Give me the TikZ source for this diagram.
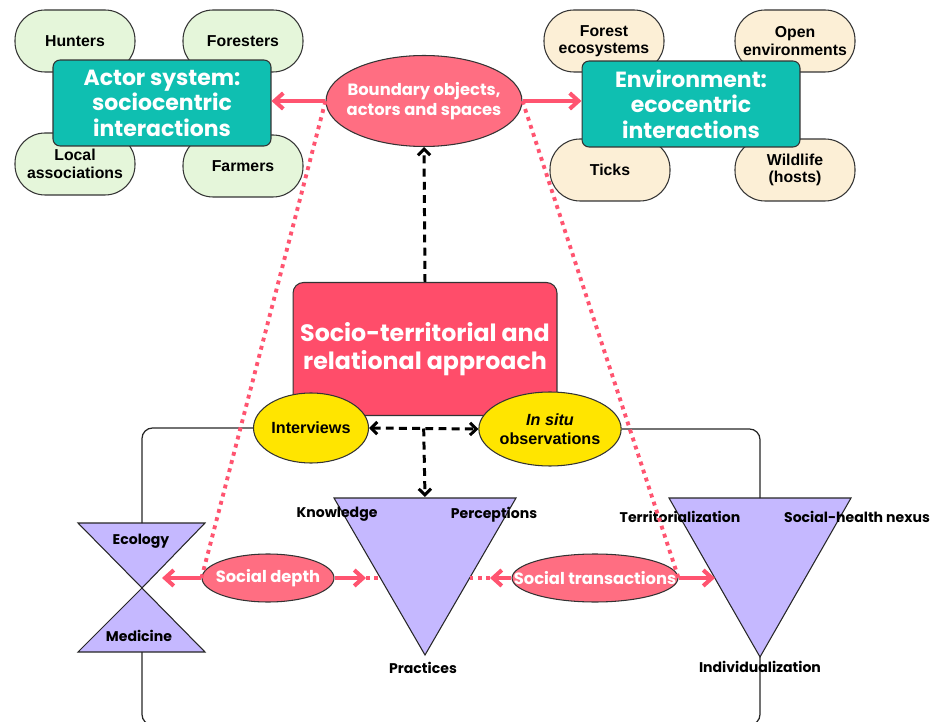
\documentclass[tikz,border=0pt]{standalone}
\usepackage{fontspec}
\setmainfont{Liberation Sans}
\newfontfamily\popf{Poppins}
\usepackage{tikz}
\usetikzlibrary{calc,arrows.meta,shapes.geometric}

\definecolor{pillgreen}{HTML}{E5F6DA}
\definecolor{pillcream}{HTML}{FCEFD6}
\definecolor{tealbx}{HTML}{0FBFB1}
\definecolor{ovalpink}{HTML}{FF6E82}
\definecolor{redbx}{HTML}{FF4D6A}
\definecolor{ovalyellow}{HTML}{FFE500}
\definecolor{lilac}{HTML}{C5B8FF}
\definecolor{arrpink}{HTML}{FF5470}

\tikzset{
	pill/.style={draw=black!80, line width=0.6pt, rectangle, rounded corners=0.6cm, minimum width=2.4cm, minimum height=1.24cm, inner sep=0pt, align=center, font=\fontsize{9}{10}\selectfont\bfseries},
	pillg/.style={pill, fill=pillgreen},
	pillc/.style={pill, fill=pillcream},
	tealbox/.style={draw=black!80, line width=0.6pt, fill=tealbx, rounded corners=4pt, minimum width=4.36cm, minimum height=1.72cm, align=center, text=white, font=\popf\fontsize{12.5}{14.5}\selectfont\bfseries},
	redbox/.style={draw=black!80, line width=0.6pt, fill=redbx, rounded corners=6pt, minimum width=5.28cm, minimum height=2.66cm, align=center, text=white, font=\popf\fontsize{13.5}{16}\selectfont\bfseries},
	pinkoval/.style={draw=black!80, line width=0.6pt, fill=ovalpink, ellipse, inner sep=0pt},
	ovaltxt/.style={align=center, text=white, inner sep=0pt, font=\popf\fontsize{9.3}{11.5}\selectfont\bfseries},
	yelloval/.style={draw=black!80, line width=0.6pt, fill=ovalyellow, ellipse, inner sep=0pt, align=center, font=\fontsize{9.2}{10.5}\selectfont\bfseries},
	pinkarr/.style={draw=arrpink, line width=2.3pt, -{Straight Barb[length=5pt,width=9pt]}},
	blkarr/.style={draw=black, line width=1.7pt, dash pattern=on 4.5pt off 3pt, -{Straight Barb[length=3.5pt,width=7pt]}},
	pinkdot/.style={draw=arrpink, line width=2.2pt, dash pattern=on 2.2pt off 2.6pt},
	thinln/.style={draw=black!85, line width=0.7pt, rounded corners=6pt},
	trifill/.style={draw=black!85, line width=0.6pt, fill=lilac},
	lbl/.style={font=\popf\fontsize{8}{9}\selectfont\bfseries, inner sep=0pt}
}

\begin{document}
\begin{tikzpicture}[x=0.02cm, y=-0.02cm]
		%%%%% START %%%%%
		\useasboundingbox (0,0) rectangle (936,722);
		
		% actors
		\node[pillg] (hunt) at (75,41) {Hunters};
		\node[pillg] (fors) at (243,41) {Foresters};
		\node[pillg] (loc) at (75,164) {Local\\associations};
		\node[pillg] (farm) at (243,166) {Farmers};
		\node[tealbox] (actor) at (162,103) {Actor system:\\sociocentric\\interactions};
		
		% environment
		\node[pillc] (forest) at (604,41) {Forest\\ecosystems};
		\node[pillc] (open) at (795,41) {Open\\environments};
		\node[pillc] (ticks) at (610,170) {Ticks};
		\node[pillc] (wild) at (795,170) {Wildlife\\(hosts)};
		\node[tealbox] (env) at (691,104) {Environment:\\ecocentric\\interactions};
		
		\node[pinkoval, minimum width=3.92cm, minimum height=1.82cm, label={[ovaltxt]center:{Boundary objects,\\actors and spaces}}] (bound) at (424,101) {};
		
		\draw[pinkarr] (bound.west) -- (actor.east |- bound.west);
		\draw[pinkarr] (bound.east) -- (env.west |- bound.east);
		
		% approach
		\node[redbox] (appr) at (425,349) {Socio-territorial and\\relational approach};
		\node[yelloval, minimum width=2.3cm, minimum height=1.4cm] (int) at (311,428) {Interviews};
		\node[yelloval, minimum width=2.7cm, minimum height=1.48cm] (situ) at (550,429) {\textit{In situ}\\observations};
		
		\draw[blkarr] (appr.north) -- (bound.south);
		\draw[blkarr, {Straight Barb[length=3.5pt,width=7pt]}-{Straight Barb[length=3.5pt,width=7pt]}] (int.east) -- (situ.west);
		\coordinate (mid) at ($(int.east)!0.5!(situ.west)$);
		\coordinate (kntop) at (425,497);
		\draw[blkarr] (mid) -- (kntop);
		
		% triangles
		\coordinate (hgtop) at (142,523);
		\coordinate (hgbot) at (142,652);
		\coordinate (rttop) at (760,498);
		\coordinate (rtapex) at (760,657);
		\draw[trifill] (78,523) -- (205,523) -- (142,588) -- cycle;
		\draw[trifill] (142,588) -- (205,652) -- (78,652) -- cycle;
		\draw[trifill] (334,498) -- (516,498) -- (425,655) -- cycle;
		\draw[trifill] (669,498) -- (851,498) -- (760,657) -- cycle;
		
		\draw[thinln] (int.west) -- (142,428) -- (hgtop);
		\draw[thinln] (situ.east) -- (760,429) -- (rttop);
		\draw[thinln] (hgbot) -- (142,725) -- (760,725) -- (rtapex);
		
		\node[lbl] (eco) at (141,541) {Ecology};
		\node[lbl] (med) at (139,636) {Medicine};
		\node[lbl] (know) at (337,514) {Knowledge};
		\node[lbl] (perc) at (494,515) {Perceptions};
		\node[lbl] (prac) at (423,668) {Practices};
		\node[lbl] (terr) at (680,517) {Territorialization};
		\node[lbl] (nexus) at (857,517) {Social-health nexus};
		\node[lbl] (indiv) at (760,667) {Individualization};
		
		% social depth / transactions
		\node[pinkoval, minimum width=2.64cm, minimum height=0.96cm, label={[ovaltxt]center:Social depth}] (depth) at (268,578) {};
		\node[pinkoval, minimum width=3.32cm, minimum height=0.96cm, label={[ovaltxt]center:Social transactions}] (trans) at (595,578) {};
		
		\draw[pinkdot] (bound.west) -- (depth.west);
		\draw[pinkdot] (bound.east) -- (trans.east);
		
		\coordinate (hgmid) at (162,578);
		\coordinate (kl) at (366,578);
		\coordinate (kledge) at (381,578);
		\coordinate (kr) at (490,578);
		\coordinate (kredge) at (470,578);
		\coordinate (rtedge) at (715,578);
		\draw[pinkarr] (depth.west) -- (hgmid);
		\draw[pinkarr] (depth.east) -- (kl);
		\draw[pinkdot] (kl) -- (kledge);
		\draw[pinkarr] (trans.west) -- (kr);
		\draw[pinkdot] (kr) -- (kredge);
		\draw[pinkarr] (trans.east) -- (rtedge);
		%%%%% END %%%%%
\end{tikzpicture}
\end{document}
